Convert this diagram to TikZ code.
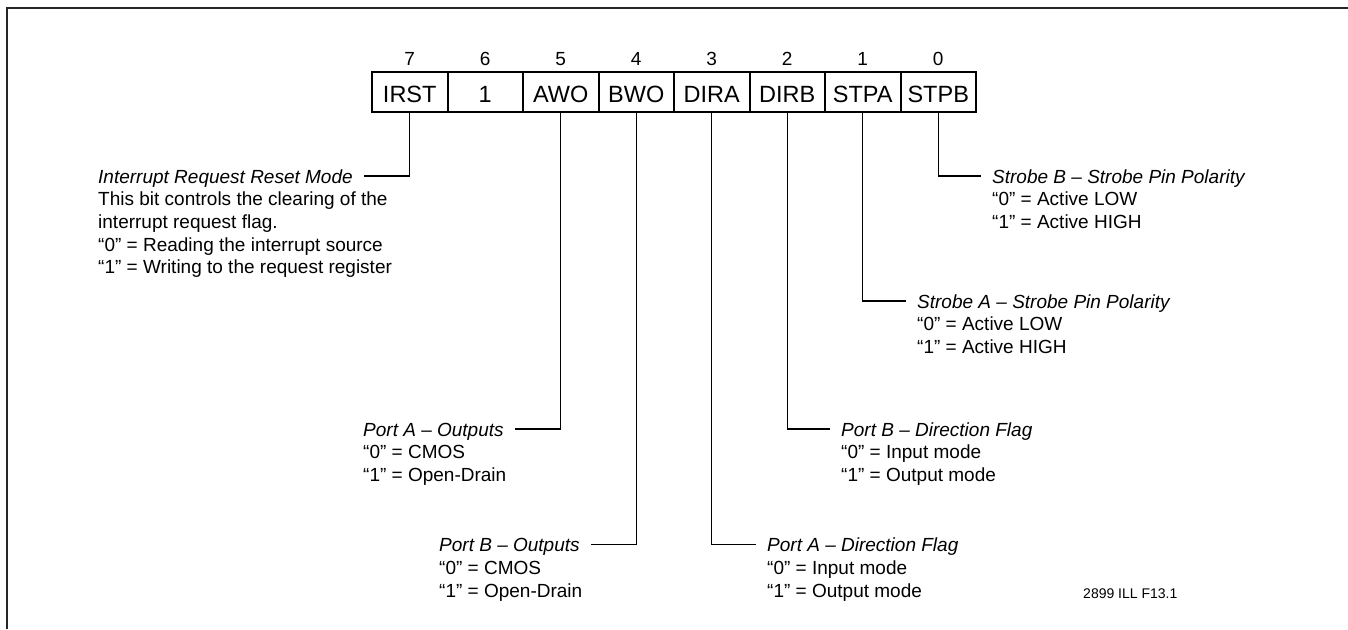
\documentclass[tikz,border=0pt]{standalone}
\usepackage{fontspec}
\setmainfont{Liberation Sans}
\tikzset{
  cell/.style={draw, line width=2pt, minimum width=75.5pt, minimum height=40pt, inner sep=0pt,
    font=\fontsize{23.5}{26}\selectfont, text height=20.8pt, text depth=0pt},
  bitnum/.style={inner sep=0pt, font=\fontsize{19}{22}\selectfont, text height=13.6pt, text depth=0pt},
  ttl/.style={inner xsep=11pt, inner ysep=0pt, font=\fontsize{19}{22.7}\selectfont\itshape,
    text height=14pt, text depth=0pt, anchor=base west},
  body/.style={inner sep=0pt, align=left, anchor=north west, font=\fontsize{19}{22.7}\selectfont},
  conn/.style={line width=1.2pt},
  frameline/.style={line width=2.4pt, color=black!85},
  note/.style={inner sep=0pt, anchor=base west, font=\fontsize{14}{16}\selectfont}
}
\begin{document}
\begin{tikzpicture}[x=1pt,y=-1pt]
\useasboundingbox (0,0) rectangle (1348,629);
\draw[frameline] (7,629) |- (1348,8);

% register cells
\node[cell] (c7) at (409.75,92) {IRST};
\node[cell] (c6) at (485.25,92) {1};
\node[cell] (c5) at (560.75,92) {AWO};
\node[cell] (c4) at (636.25,92) {BWO};
\node[cell] (c3) at (711.75,92) {DIRA};
\node[cell] (c2) at (787.25,92) {DIRB};
\node[cell] (c1) at (862.75,92) {STPA};
\node[cell] (c0) at (938.25,92) {STPB};

% bit numbers
\node[bitnum] (b7) at (409.75,58.3) {7};
\node[bitnum] (b6) at (485.25,58.3) {6};
\node[bitnum] (b5) at (560.75,58.3) {5};
\node[bitnum] (b4) at (636.25,58.3) {4};
\node[bitnum] (b3) at (711.75,58.3) {3};
\node[bitnum] (b2) at (787.25,58.3) {2};
\node[bitnum] (b1) at (862.75,58.3) {1};
\node[bitnum] (b0) at (938.25,58.3) {0};

% bit 7
\node[ttl] (t7) at (87,183) {Interrupt Request Reset Mode};
\node[body] (d7) at (98,189.8) {\strut This bit controls the clearing of the\\interrupt request flag.\\“0” = Reading the interrupt source\\“1” = Writing to the request register};
% bit 0
\node[ttl] (t0) at (981,183) {Strobe B – Strobe Pin Polarity};
\node[body] (d0) at (992,189.8) {\strut “0” = Active LOW\\“1” = Active HIGH};
% bit 1
\node[ttl] (t1) at (906,308) {Strobe A – Strobe Pin Polarity};
\node[body] (d1) at (917,314.8) {\strut “0” = Active LOW\\“1” = Active HIGH};
% bit 5
\node[ttl] (t5) at (352,436) {Port A – Outputs};
\node[body] (d5) at (363,442.8) {\strut “0” = CMOS\\“1” = Open-Drain};
% bit 2
\node[ttl] (t2) at (830,436) {Port B – Direction Flag};
\node[body] (d2) at (841,442.8) {\strut “0” = Input mode\\“1” = Output mode};
% bit 4
\node[ttl] (t4) at (428,551.5) {Port B – Outputs};
\node[body] (d4) at (439,558.3) {\strut “0” = CMOS\\“1” = Open-Drain};
% bit 3
\node[ttl] (t3) at (756,551.5) {Port A – Direction Flag};
\node[body] (d3) at (767,558.3) {\strut “0” = Input mode\\“1” = Output mode};

% connectors
\draw[conn] (c7.south) |- (t7.east);
\draw[conn] (c5.south) |- (t5.east);
\draw[conn] (c4.south) |- (t4.east);
\draw[conn] (c3.south) |- (t3.west);
\draw[conn] (c2.south) |- (t2.west);
\draw[conn] (c1.south) |- (t1.west);
\draw[conn] (c0.south) |- (t0.west);

\node[note] (fig) at (1083,598.3) {2899 ILL F13.1};
\end{tikzpicture}
\end{document}
